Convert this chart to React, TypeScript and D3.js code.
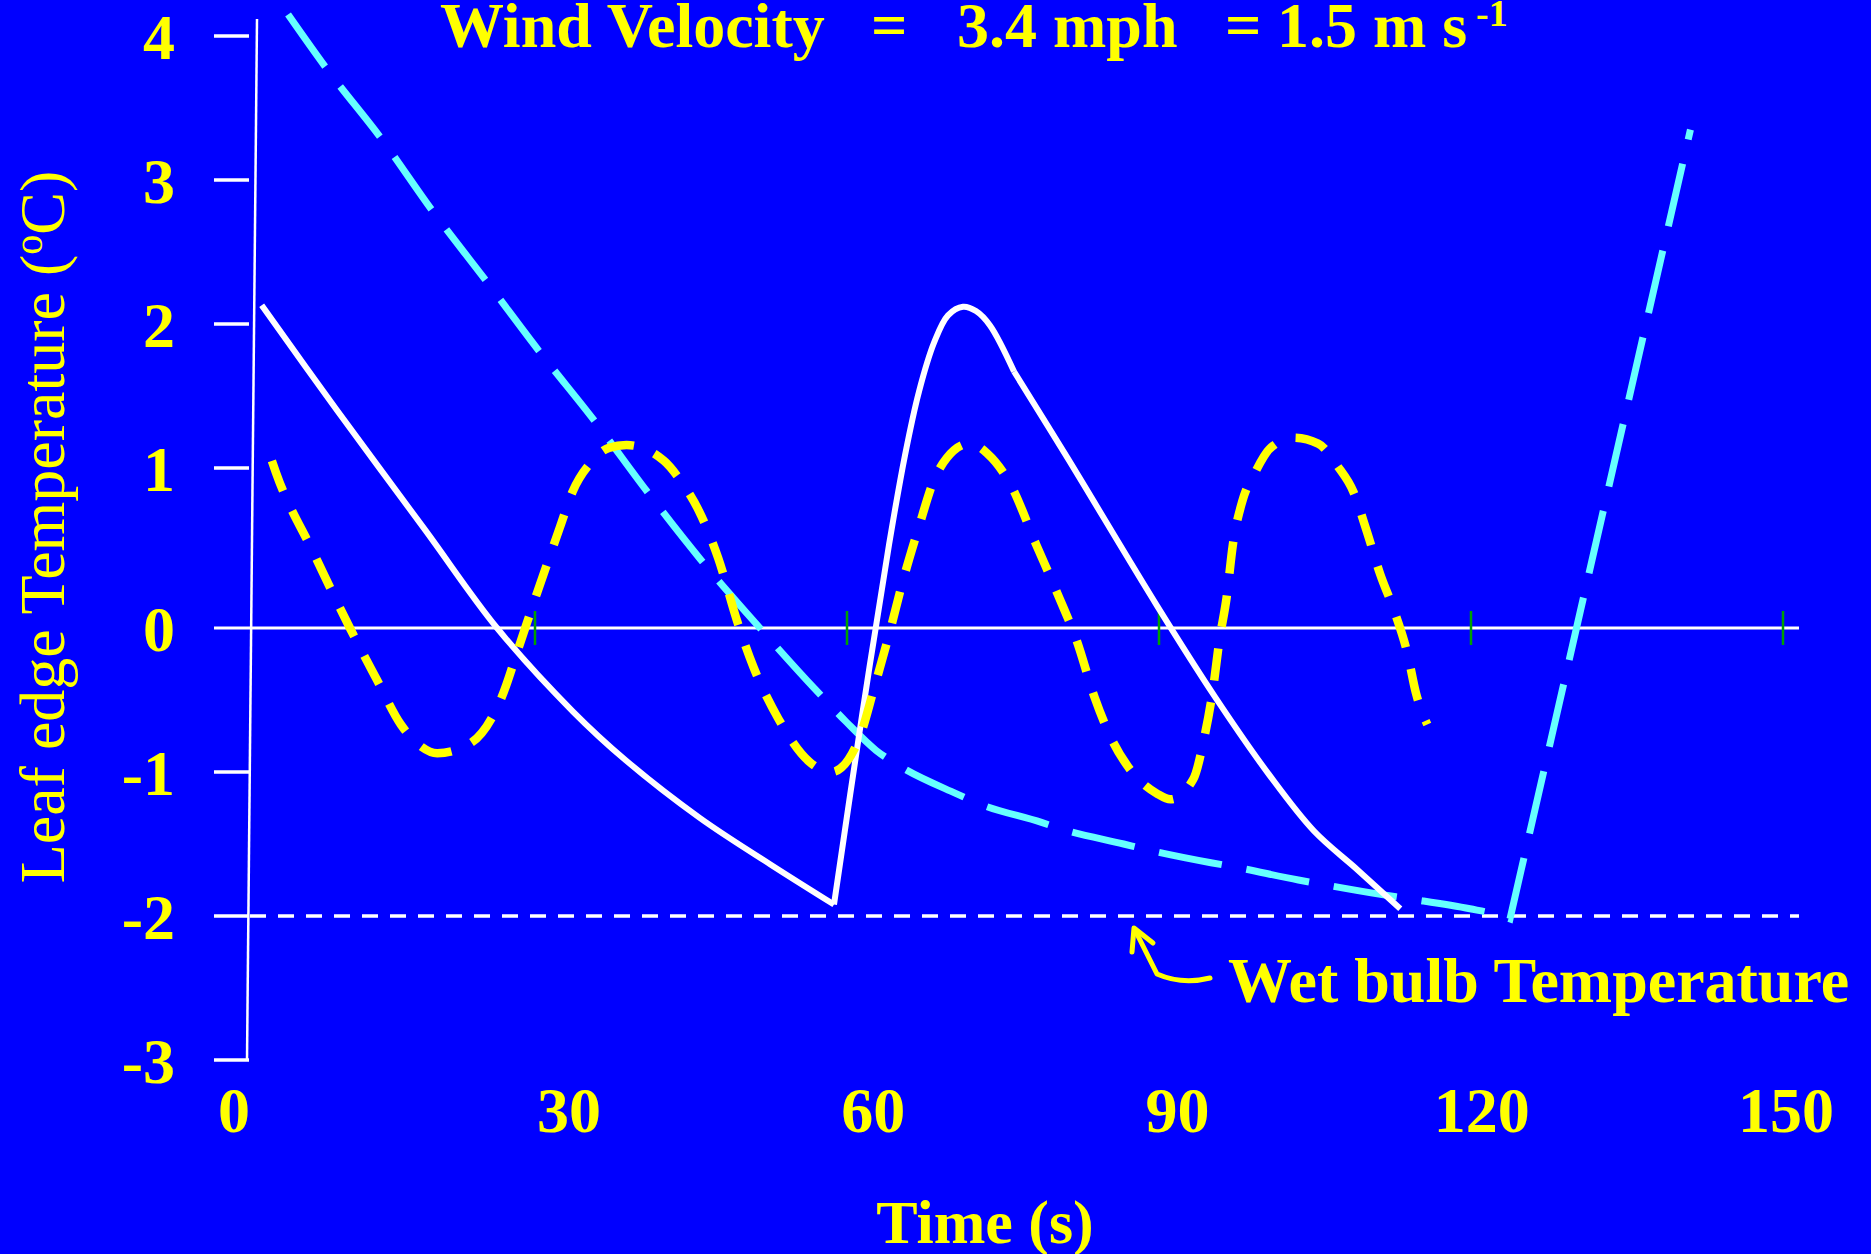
import React from 'react';
import * as d3 from 'd3';

const width = 1871;
const height = 1254;

// leaf edge temperature (oC) against time (s)

// solid white: cooling, re-wetting peak, second cooling
const whiteCoolT = [3.72, 10.87, 19.47, 26.35, 33.65, 38.75, 45.87, 52.6, 58.75];
const whiteCoolV = [2.13, 1.41, 0.61, 0.0, -0.58, -0.92, -1.32, -1.64, -1.92];
const whitePeakT = [58.75, 61.44, 64.04, 65.58, 66.92, 68.37, 69.71, 71.15, 72.4, 73.75, 76.06];
const whitePeakV = [-1.92, -0.61, 0.52, 1.09, 1.53, 1.87, 2.06, 2.12, 2.09, 1.99, 1.67];
const whiteFallT = [76.06, 81.2, 89.8, 95.4, 100.6, 104.9, 109.1, 113.2];
const whiteFallV = [1.67, 1.07, 0.14, -0.48, -1.02, -1.41, -1.68, -1.95];

// yellow dashed oscillation
const yellowT = [4.7, 5.1, 8.7, 12.2, 14.8, 17.1, 19.0, 20.6, 23.8, 26.8, 28.5, 30.2, 32.4, 33.6, 35.4, 37.1, 38.8,
  42.4, 43.9, 45.7, 47.6, 49.5, 51.0, 53.4, 56.4, 58.5, 61.1, 62.6, 64.1, 65.4, 66.9, 68.4, 69.6, 71.8, 73.5,
  75.7, 78.2, 80.4, 82.1, 83.8, 85.5, 87.3, 89.8, 91.1, 93.3, 94.3, 95.2, 95.8, 96.5, 97.1, 98.0, 99.3, 100.6,
  102.9, 105.3, 107.2, 108.7, 110.0, 111.3, 112.6, 113.9, 114.7, 115.8];
const yellowV = [1.05, 0.97, 0.47, 0.0, -0.36, -0.67, -0.82, -0.87, -0.8, -0.48, -0.12, 0.22, 0.63, 0.85, 1.04, 1.14, 1.16,
  1.05, 0.93, 0.74, 0.44, 0.03, -0.27, -0.63, -0.93, -1.0, -0.78, -0.42, -0.03, 0.3, 0.63, 0.93, 1.07, 1.17, 1.1,
  0.9, 0.52, 0.19, -0.09, -0.48, -0.78, -0.99, -1.15, -1.19, -1.05, -0.78, -0.42, -0.09, 0.19, 0.52, 0.79, 0.98, 1.13,
  1.21, 1.17, 1.01, 0.85, 0.6, 0.33, 0.11, -0.18, -0.45, -0.67];

// cyan long dashes
const cyanT = [6.25, 10.1, 15.3, 20.2, 25.4, 30.3, 35.8, 40.7, 45.9, 51.35, 57.0, 59.9, 62.8, 65.1, 70.5,
  72.7, 78.7, 80.8, 86.6, 88.9, 95.0, 97.3, 103.4, 105.7, 111.3, 114.0, 119.9, 122.5, 123.75];
const cyanV = [4.15, 3.76, 3.28, 2.78, 2.29, 1.82, 1.32, 0.86, 0.43, 0.02, -0.43, -0.65, -0.85, -0.96, -1.15,
  -1.22, -1.35, -1.4, -1.5, -1.54, -1.63, -1.66, -1.75, -1.78, -1.85, -1.88, -1.95, -1.99, -2.02];
const cyanRiseT = [123.75, 141.1];
const cyanRiseV = [-2.02, 3.35];

const wetBulb = -2;
const yTicks = [-3, -2, -1, 0, 1, 2, 3, 4];
const xTicks = [0, 30, 60, 90, 120, 150];
const greenTicks = [30, 60, 90, 120, 150];

const yellow = '#ffff00';
const cyan = '#66ffff';
const font = '"Liberation Serif", "Times New Roman", serif';

const x = d3.scaleLinear().domain([30, 150]).range([535, 1783]);
const xLabel = d3.scaleLinear().domain([0, 30, 150]).range([234, 569, 1786]);
const y = d3.scaleLinear().domain([-3, 0, 1, 4]).range([1060, 628, 468, 36]);

const zip = (t: number[], v: number[]) => t.map((d, i) => [d, v[i]] as [number, number]);

const line = d3.line<[number, number]>()
  .x(d => x(d[0]))
  .y(d => y(d[1]))
  .curve(d3.curveMonotoneX);

const smooth = d3.line<[number, number]>()
  .x(d => x(d[0]))
  .y(d => y(d[1]))
  .curve(d3.curveCatmullRom.alpha(0.5));

const straight = d3.line<[number, number]>()
  .x(d => x(d[0]))
  .y(d => y(d[1]));

const App = () => {
  const yellowPath = line(zip(yellowT, yellowV)) || '';
  const cyanPath = (line(zip(cyanT, cyanV)) || '') +
    (straight(zip(cyanRiseT, cyanRiseV)) || '').replace(/^M/, 'L');

  return (
    <svg width={width} height={height} style={{ position: 'absolute', left: 0, top: 0, display: 'block' }}>
      <rect width={width} height={height} fill="#0000ff" />

      {/* title */}
      <text y={47} fill={yellow} fontFamily={font} fontWeight="bold" fontSize={64}>
        <tspan x={440}>Wind Velocity</tspan>
        <tspan x={871}>=</tspan>
        <tspan x={957}>3.4 mph</tspan>
        <tspan x={1225}>=</tspan>
        <tspan x={1277}>1.5 m s</tspan>
        <tspan x={1476} y={26} fontSize={38}>-1</tspan>
      </text>

      {/* zero line and wet bulb line */}
      <line x1={214} x2={1799} y1={y(0)} y2={y(0)} stroke="#fff" strokeWidth={3} />
      <line x1={250} x2={1799} y1={y(wetBulb)} y2={y(wetBulb)} stroke="#fff" strokeWidth={3.5}
        strokeDasharray="16 12" />

      {/* y axis */}
      <line x1={247} y1={y(-3)} x2={257} y2={19} stroke="#fff" strokeWidth={2.5} />
      {yTicks.map(t => (
        <g key={t}>
          {t !== 0 && <line x1={214} x2={249} y1={y(t)} y2={y(t)} stroke="#fff" strokeWidth={3.5} />}
          <text x={175} y={y(t) + 23} textAnchor="end" fill={yellow} fontFamily={font}
            fontWeight="bold" fontSize={64}>{t}</text>
        </g>
      ))}

      {greenTicks.map(t => (
        <line key={t} x1={x(t)} x2={x(t)} y1={y(0) - 17} y2={y(0) + 17} stroke="#00a000" strokeWidth={2.5} />
      ))}

      {xTicks.map(t => (
        <text key={t} x={xLabel(t)} y={1132} textAnchor="middle" fill={yellow} fontFamily={font}
          fontWeight="bold" fontSize={64}>{t}</text>
      ))}

      {/* series */}
      <path d={cyanPath} fill="none" stroke={cyan} strokeWidth={7} strokeDasharray="64 25" />
      <path d={smooth(zip(whiteCoolT, whiteCoolV)) || ''} fill="none" stroke="#fff" strokeWidth={6} />
      <path d={smooth(zip(whitePeakT, whitePeakV)) || ''} fill="none" stroke="#fff" strokeWidth={6} />
      <path d={smooth(zip(whiteFallT, whiteFallV)) || ''} fill="none" stroke="#fff" strokeWidth={6} />
      <path d={yellowPath} fill="none" stroke={yellow} strokeWidth={8.5} strokeDasharray="32 22" />

      {/* wet bulb annotation */}
      <path d="M1210,978 Q1182,985 1157,974 L1135,930" fill="none" stroke={yellow} strokeWidth={5}
        strokeLinecap="round" strokeLinejoin="round" />
      <path d="M1132,952 L1134,928 L1153,943" fill="none" stroke={yellow} strokeWidth={5}
        strokeLinecap="round" strokeLinejoin="round" />
      <text x={1228} y={1002} fill={yellow} fontFamily={font} fontWeight="bold" fontSize={64}>
        Wet bulb Temperature
      </text>

      {/* axis titles */}
      <text x={985} y={1243} textAnchor="middle" fill={yellow} fontFamily={font} fontWeight="bold"
        fontSize={62}>Time (s)</text>
      <text transform="translate(64,527) rotate(-90)" textAnchor="middle" fill={yellow} fontFamily={font}
        fontSize={64}>
        Leaf edge Temperature (<tspan dy={-22} fontSize={40}>o</tspan><tspan dy={22}>C)</tspan>
      </text>
    </svg>
  );
};

export default App;
